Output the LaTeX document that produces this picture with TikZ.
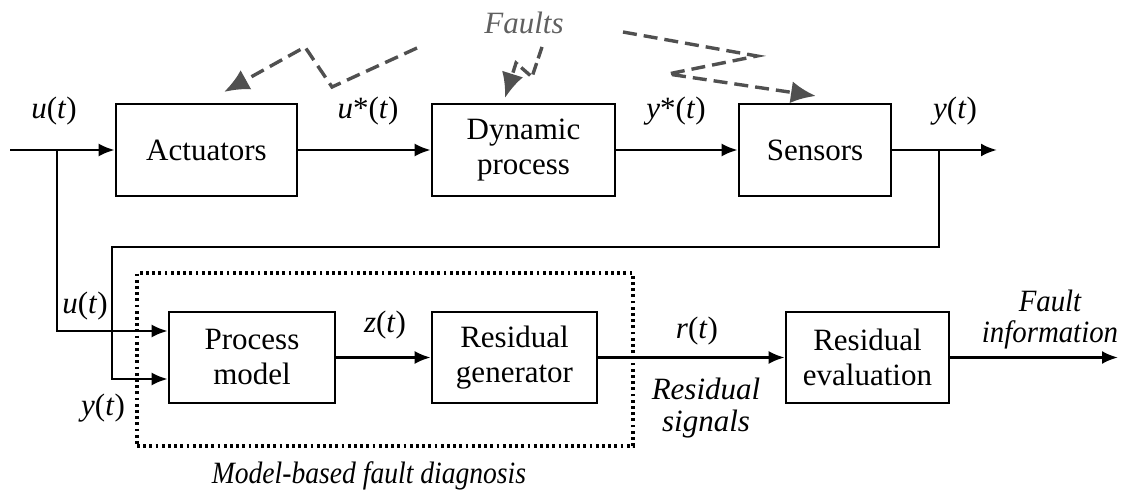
\documentclass[tikz,border=0pt]{standalone}
\usepackage{fontspec}
\setmainfont{Liberation Serif}
\usetikzlibrary{arrows.meta}
\definecolor{fgray}{HTML}{505050}
\definecolor{tgray}{HTML}{606060}
\begin{document}
\begin{tikzpicture}[x=0.5pt,y=-0.5pt,
  blk/.style={draw,line width=1.3pt,inner sep=0pt,align=center,
    font=\fontsize{15.5}{17.5}\selectfont},
  sig/.style={line width=1.3pt,-{Latex[length=8pt,width=6.5pt]}},
  flt/.style={draw=fgray,line width=1.7pt,dash pattern=on 7pt off 3.5pt,
    -{Latex[length=12.5pt,width=11pt]}},
  lbl/.style={font=\fontsize{15.5}{17.5}\selectfont,inner sep=0pt,anchor=base},
  ilbl/.style={lbl,font=\fontsize{15.5}{17.5}\selectfont\itshape,align=center},
]
\useasboundingbox (0,0) rectangle (1125,491);

% blocks
\node[blk,minimum width=90.5pt,minimum height=46pt] (act) at (206.5,150) {Actuators};
\node[blk,minimum width=91.5pt,minimum height=46pt] (dyn) at (523.5,150) {Dynamic\\process};
\node[blk,minimum width=76pt,minimum height=46pt] (sen) at (815,150) {Sensors};
\node[blk,minimum width=83pt,minimum height=45.5pt] (pm) at (252,357.5) {Process\\model};
\node[blk,minimum width=82.5pt,minimum height=45.5pt] (rg) at (514.5,357.5) {Residual\\generator};
\node[blk,minimum width=81.5pt,minimum height=45.5pt] (re) at (867.5,357.5) {Residual\\evaluation};

% dotted frame
\node[draw,line width=1.6pt,dash pattern=on 1.4pt off 1.7pt,minimum width=248pt,minimum height=86.5pt,inner sep=0pt] (mbox) at (385,359.5) {};

% coordinates
\coordinate (in) at (10,150);
\coordinate (out) at (997,150);
\coordinate (bu) at (57,150);
\coordinate (by) at (939,150);
\coordinate (fb) at (112,247);
\coordinate (pmu) at (pm.west |- 0,331);
\coordinate (pmy) at (pm.west |- 0,379);
\coordinate (fout) at (1118,357.5);

% signal lines
\draw[sig] (in) -- (act);
\draw[sig] (act) -- (dyn);
\draw[sig] (dyn) -- (sen);
\draw[sig] (sen) -- (out);
\draw[sig] (bu) |- (pmu);
\draw[sig] (by) |- (fb) |- (pmy);
\draw[sig] (pm) -- (rg);
\draw[sig] (rg) -- (re);
\draw[sig] (re) -- (fout);

% fault arrows
\coordinate (f1a) at (417,48);
\coordinate (f1b) at (332,87);
\coordinate (f1c) at (305,47);
\coordinate (f1d) at (224,92);
\draw[flt] (f1a) -- (f1b) -- (f1c) -- (f1d);
\coordinate (f2a) at (542,47);
\coordinate (f2b) at (532,77);
\coordinate (f2c) at (516,63);
\coordinate (f2d) at (505,98);
\draw[flt,dash pattern=on 6pt off 2.5pt] (f2a) -- (f2b) -- (f2c) -- (f2d);
\coordinate (f3a) at (623,32);
\coordinate (f3b) at (757,56);
\coordinate (f3c) at (668,74);
\coordinate (f3d) at (816,96);
\draw[flt] (f3a) -- (f3b) -- (f3c) -- (f3d);

% labels
\node[lbl] (lu) at (54,119) {\textit{u}(\textit{t})};
\node[lbl] (lus) at (368,119) {\textit{u}*(\textit{t})};
\node[lbl] (lys) at (676,119) {\textit{y}*(\textit{t})};
\node[lbl] (ly) at (955,119) {\textit{y}(\textit{t})};
\node[lbl] (lu2) at (85,314) {\textit{u}(\textit{t})};
\node[lbl] (ly2) at (103,416) {\textit{y}(\textit{t})};
\node[lbl] (lz) at (385,333) {\textit{z}(\textit{t})};
\node[lbl] (lr) at (697,339) {\textit{r}(\textit{t})};
\node[ilbl,text=tgray] (faults) at (524,34) {Faults};
\node[ilbl] (rs1) at (706,400) {Residual};
\node[ilbl] (rs2) at (706,432) {signals};
\node[ilbl] (fi1) at (1050,312) {\scalebox{0.93}[1]{Fault}};
\node[ilbl] (fi2) at (1050,343) {\scalebox{0.93}[1]{information}};
\node[ilbl] (mbl) at (369,484) {\scalebox{0.89}[1]{Model-based fault diagnosis}};
\end{tikzpicture}
\end{document}
